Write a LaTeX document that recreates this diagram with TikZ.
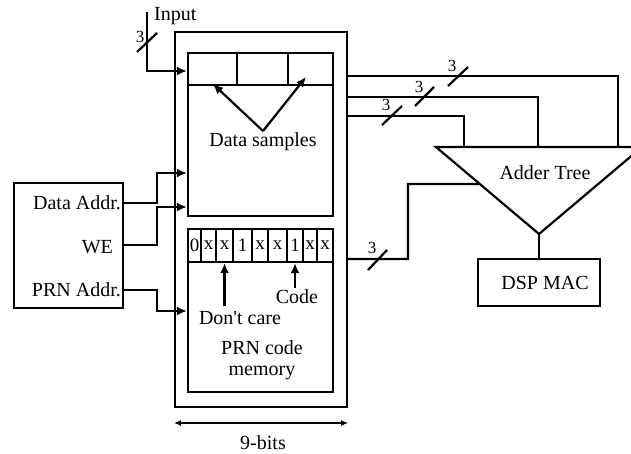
\documentclass[tikz,border=0pt]{standalone}
\usepackage{fontspec}
\setmainfont{Liberation Serif}
\usetikzlibrary{arrows.meta,positioning,calc}

\begin{document}
\begin{tikzpicture}[
x=1pt, y=-1pt,
line width=2.2pt,
box/.style={draw, rectangle, inner sep=0pt},
lbl/.style={inner sep=0pt, font=\fontsize{20}{21}\selectfont},
bit/.style={inner sep=0pt, minimum height=33pt, font=\fontsize{19}{20}\selectfont},
wid/.style={inner sep=0pt, font=\fontsize{17}{18}\selectfont},
arrow/.style={-{Latex[length=10pt,width=9pt]}}
]
\useasboundingbox (0,0) rectangle (631,453);
\clip (0,0) rectangle (631,453);

% memory block
\node[box, minimum width=172pt, minimum height=375pt] (mem) at (261,219.5) {};
\node[box, minimum width=145pt, minimum height=163pt] (data) at (260.5,134.5) {};
\node[box, minimum width=145pt, minimum height=163pt] (prn) at (260.5,310.5) {};

% data sample registers
\draw (data.west |- 0,85) -- (data.east |- 0,85);
\draw (237,85) -- (data.north -| 237,0);
\draw (288,85) -- (data.north -| 288,0);
\node[lbl] (ds) at (263,142) {Data samples};
\coordinate (dsv) at (263,131);
\draw[arrow] (dsv) -- (213,84);
\draw[arrow] (dsv) -- (306,77);

% PRN code row
\draw (prn.west |- 0,262) -- (prn.east |- 0,262);
\foreach \xx in {201,216,233,252,268,287,303,317}
  \draw (\xx,262) -- (prn.north -| \xx,0);
\foreach \xx/\b [count=\i] in {194.5/0,208.5/x,224.5/x,242.5/1,260/x,277.5/x,295/1,310/x,325/x}
  \node[bit] (bit\i) at (\xx,245.5) {\b};

\node[lbl] (dc) at (240,318) {Don\textquotesingle t care};
\draw[arrow] ($(dc.north -| bit3.south)+(0,-4)$) -- (bit3.south);
\node[lbl] (code) at (297,297) {Code};
\draw[arrow] ($(code.north -| bit7.south)+(0,-1)$) -- (bit7.south);
\node[lbl, align=center] (pcm) at (262,360) {PRN code\\memory};

% 9-bits
\draw[{Latex[length=7pt,width=6pt]}-{Latex[length=7pt,width=6pt]}] (mem.west |- 0,423) -- (mem.east |- 0,423);
\node[lbl] (nb) at (263,443) {9-bits};

% input
\coordinate (inp) at (147,12);
\node[lbl, anchor=west] (inlbl) at (153,16) {Input};
\draw[arrow] (inp) |- (data.west |- 0,71);
\draw (137,52) -- (157,33);
\node[wid] (w0) at (140,37) {3};

% address / control
\node[box, minimum width=109pt, minimum height=125pt] (ctl) at (68.5,245.5) {};
\node[lbl, anchor=east] (daddr) at (122,203) {Data Addr.};
\node[lbl, anchor=east] (we) at (114,247) {WE};
\node[lbl, anchor=east] (paddr) at (122,290) {PRN Addr.};
\draw[arrow] (ctl.east |- daddr) -| (157,173) -- (data.west |- 0,173);
\draw[arrow] (ctl.east |- 0,245) -| (157,207) -- (data.west |- 0,207);
\draw[arrow] (ctl.east |- paddr) -| (157,311) -- (prn.west |- 0,311);

% adder tree
\coordinate (tl) at (436,147);
\coordinate (tr) at (642,147);
\coordinate (tip) at (539,234);
\draw (tl) -- (tr) -- (tip) -- cycle;
\node[lbl] (add) at (545,173) {Adder Tree};
\coordinate (a1) at (464,147);
\coordinate (a2) at (538,147);
\coordinate (a3) at (618,147);
\coordinate (tin) at ($(tl)!0.425!(tip)$);

\draw (mem.east |- 0,76) -| (a3);
\draw (mem.east |- 0,97) -| (a2);
\draw (mem.east |- 0,116) -| (a1);
\draw (mem.east |- 0,259) -| (408,184) -- (tin);

% bus widths
\draw (448,86) -- (468,67);
\node[wid] (w1) at (452,66) {3};
\draw (415,106) -- (434,87);
\node[wid] (w2) at (419,87) {3};
\draw (382,125) -- (402,106);
\node[wid] (w3) at (386,105) {3};
\draw (368,270) -- (387,250);
\node[wid] (w4) at (372,248) {3};

% DSP MAC
\node[box, minimum width=122pt, minimum height=47pt] (dsp) at (539,282.5) {};
\node[lbl] (dspl) at (545,283) {DSP MAC};
\draw (tip) -- (dsp.north);
\end{tikzpicture}
\end{document}
